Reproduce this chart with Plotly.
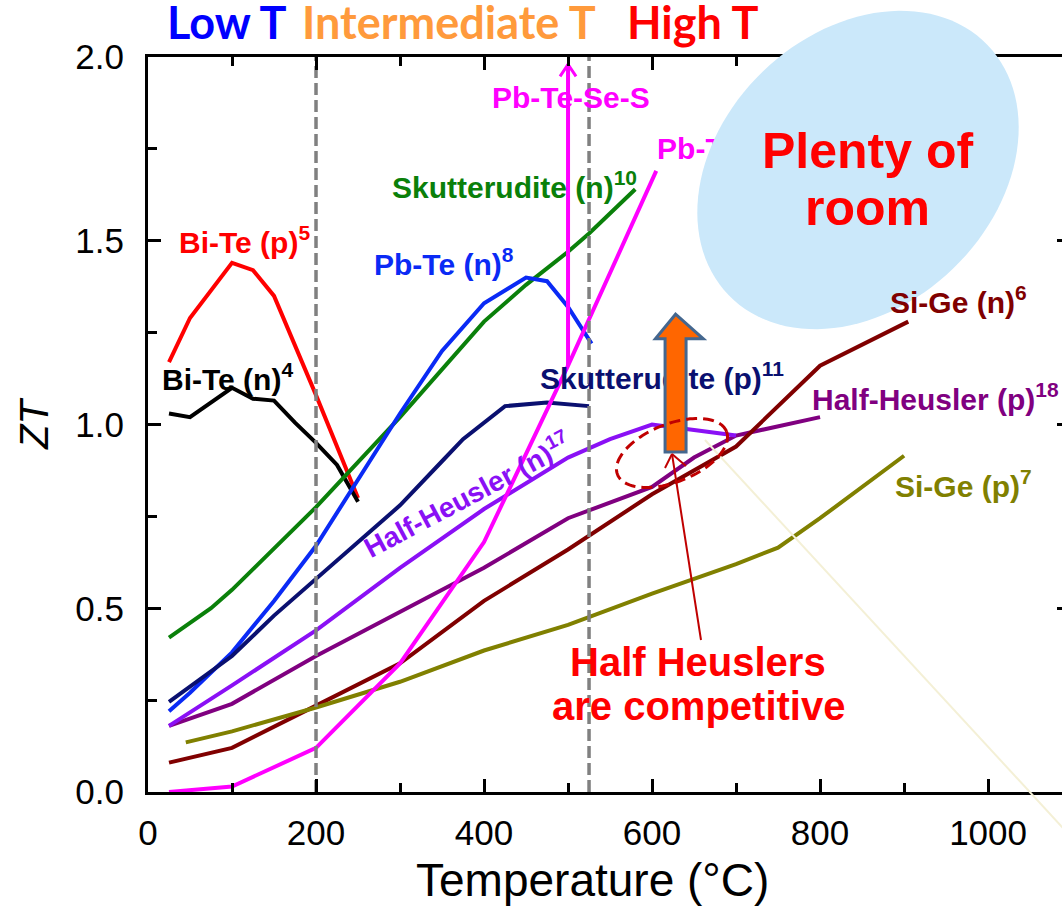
import math
import plotly.graph_objects as go

# ---- figure geometry (pixels) ----
W, H = 1062, 907
ML, MT, MB, MR = 148, 57, 115, 0
PLOT_W = W - ML - MR
PLOT_H = H - MT - MB
X_MAX, Y_MAX = 1088, 2.0

# ---- ZT vs temperature data ----
BITE_P_X = [25, 50, 100, 125, 150, 200, 250]
BITE_P_Y = [1.17, 1.29, 1.44, 1.42, 1.35, 1.08, 0.80]

BITE_N_X = [25, 50, 100, 125, 150, 175, 200, 225, 250]
BITE_N_Y = [1.03, 1.02, 1.10, 1.07, 1.065, 1.005, 0.95, 0.89, 0.79]

SKUT_N_X = [25, 75, 100, 200, 300, 400, 450, 500, 525, 580]
SKUT_N_Y = [0.42, 0.50, 0.55, 0.775, 1.02, 1.28, 1.38, 1.47, 1.52, 1.64]

PBTE_N_X = [25, 50, 100, 150, 200, 250, 300, 350, 400, 450, 475, 500, 528]
PBTE_N_Y = [0.22, 0.27, 0.38, 0.52, 0.67, 0.85, 1.03, 1.20, 1.33, 1.40, 1.39, 1.32, 1.22]

SKUT_P_X = [25, 75, 100, 150, 200, 250, 300, 350, 375, 425, 475, 525]
SKUT_P_Y = [0.245, 0.33, 0.37, 0.48, 0.58, 0.68, 0.78, 0.90, 0.96, 1.05, 1.06, 1.05]

HH_N_X = [25, 100, 200, 300, 400, 500, 550, 600, 650, 700]
HH_N_Y = [0.18, 0.29, 0.44, 0.61, 0.77, 0.91, 0.96, 1.00, 0.985, 0.97]

HH_P_X = [25, 100, 200, 300, 400, 500, 600, 650, 700, 800]
HH_P_Y = [0.18, 0.24, 0.37, 0.49, 0.61, 0.745, 0.83, 0.91, 0.97, 1.02]

SIGE_N_X = [25, 100, 200, 300, 400, 500, 600, 700, 800, 905]
SIGE_N_Y = [0.08, 0.12, 0.235, 0.35, 0.52, 0.66, 0.81, 0.94, 1.16, 1.28]

SIGE_P_X = [45, 100, 200, 300, 400, 500, 600, 700, 750, 800, 900]
SIGE_P_Y = [0.135, 0.165, 0.23, 0.30, 0.385, 0.455, 0.54, 0.62, 0.665, 0.745, 0.915]

PBTE_P_X = [25, 100, 200, 300, 400, 500, 605]
PBTE_P_Y = [0.0, 0.015, 0.12, 0.35, 0.68, 1.16, 1.69]

# Pb-Te-Se-S jump drawn as an upward arrow at 500 °C
PBTESES_X = [500, 500]
PBTESES_Y = [1.16, 1.98]

# temperature regime boundaries
DIVIDERS = [200, 525]

# HH improvement arrow (x: shaft/head edges, y: bottom, head base, tip)
HH_ARROW_X = [604, 615.5, 640.5, 661]
HH_ARROW_Y = [0.925, 1.233, 1.30]

SERIES = [
    ("Bi-Te (p)", BITE_P_X, BITE_P_Y, "#FF0000"),
    ("Bi-Te (n)", BITE_N_X, BITE_N_Y, "#000000"),
    ("Skutterudite (n)", SKUT_N_X, SKUT_N_Y, "#0A800A"),
    ("Pb-Te (n)", PBTE_N_X, PBTE_N_Y, "#0A2AF5"),
    ("Skutterudite (p)", SKUT_P_X, SKUT_P_Y, "#0A1070"),
    ("Half-Heusler (p)", HH_P_X, HH_P_Y, "#800080"),
    ("Half-Heusler (n)", HH_N_X, HH_N_Y, "#8A10F5"),
    ("Si-Ge (n)", SIGE_N_X, SIGE_N_Y, "#800000"),
    ("Si-Ge (p)", SIGE_P_X, SIGE_P_Y, "#808000"),
    ("Pb-Te (p)", PBTE_P_X, PBTE_P_Y, "#FF00FF"),
]

LABEL_FONT = "Liberation Sans"
TOP_FONT = "Lato"


def px_to_x(px):
    return (px - ML) * X_MAX / PLOT_W


def px_to_y(py):
    return (MT + PLOT_H - py) * Y_MAX / PLOT_H


def x_to_px(x):
    return ML + x * PLOT_W / X_MAX


def y_to_px(y):
    return MT + PLOT_H - y * PLOT_H / Y_MAX


def px_to_paper(px, py):
    return (px - ML) / PLOT_W, (MT + PLOT_H - py) / PLOT_H


def ellipse_path(cx, cy, a, b, deg, to_paper, n=120):
    th = math.radians(deg)
    pts = []
    for i in range(n):
        t = 2 * math.pi * i / n
        px = cx + a * math.cos(t) * math.cos(th) - b * math.sin(t) * math.sin(th)
        py = cy - (a * math.cos(t) * math.sin(th) + b * math.sin(t) * math.cos(th))
        if to_paper:
            pts.append(px_to_paper(px, py))
        else:
            pts.append((px_to_x(px), px_to_y(py)))
    return "M " + " L ".join(f"{p[0]:.5f},{p[1]:.5f}" for p in pts) + " Z"


fig = go.Figure()

for name, xs, ys, col in SERIES:
    fig.add_trace(go.Scatter(x=xs, y=ys, mode="lines", name=name,
                             line=dict(color=col, width=4)))

# Pb-Te-Se-S arrow shaft and open head
fig.add_trace(go.Scatter(x=PBTESES_X, y=PBTESES_Y, mode="lines",
                         line=dict(color="#FF00FF", width=4), name="Pb-Te-Se-S"))
tip_px, tip_py = x_to_px(PBTESES_X[-1]), y_to_px(PBTESES_Y[-1])
fig.add_trace(go.Scatter(
    x=[px_to_x(tip_px - 8), PBTESES_X[-1], px_to_x(tip_px + 8)],
    y=[px_to_y(tip_py + 12), PBTESES_Y[-1], px_to_y(tip_py + 12)],
    mode="lines", line=dict(color="#FF00FF", width=3), hoverinfo="skip"))

# regime dividers
for xd in DIVIDERS:
    fig.add_trace(go.Scatter(x=[xd, xd], y=[0, Y_MAX], mode="lines",
                             line=dict(color="#808080", width=3.5, dash="12px,5px"),
                             hoverinfo="skip"))

# labels that sit beneath the overlay shapes
fig.add_trace(go.Scatter(
    x=[606, 466.7], y=[1.744, 1.118], mode="text",
    text=["<b>Pb-Te (p)<sup>9</sup></b>", "<b>Skutterudite (p)<sup>11</sup></b>"],
    textposition="middle right", cliponaxis=False,
    textfont=dict(family=LABEL_FONT, size=30, color=["#FF00FF", "#0A1070"]),
    hoverinfo="skip"))

# right-hand mirrored ticks
fig.add_trace(go.Scatter(x=[None], y=[None], yaxis="y2", hoverinfo="skip"))

shapes = []
# "plenty of room" bubble
shapes.append(dict(type="path", xref="paper", yref="paper", layer="above",
                   path=ellipse_path(858, 170, 180, 137, 44, True),
                   fillcolor="#CBE8FA", line=dict(width=0)))
# faint guide line
g0 = px_to_paper(705, 440)
g1 = px_to_paper(1075, 841)
shapes.append(dict(type="line", xref="paper", yref="paper", layer="above",
                   x0=g0[0], y0=g0[1], x1=g1[0], y1=g1[1],
                   line=dict(color="#F4F0D6", width=2)))
# HH improvement block arrow
ax0, ax1, ax2, ax3 = HH_ARROW_X
ay0, ay1, ay2 = HH_ARROW_Y
xm = (ax1 + ax2) / 2
shapes.append(dict(type="path", xref="x", yref="y", layer="above",
                   path=(f"M {ax1},{ay0} L {ax2},{ay0} L {ax2},{ay1} L {ax3},{ay1} "
                         f"L {xm},{ay2} L {ax0},{ay1} L {ax1},{ay1} Z"),
                   fillcolor="#FF6600", line=dict(color="#44678F", width=3)))
# dashed highlight ring
shapes.append(dict(type="path", xref="x", yref="y", layer="above",
                   path=ellipse_path(672, 453, 58.6, 29, 21.6, False),
                   fillcolor="rgba(0,0,0,0)",
                   line=dict(color="#C00000", width=3, dash="11px,6px")))
# thin pointer arrow
tipx, tipy = 672, 454
tailx, taily = 701, 640
shapes.append(dict(type="line", xref="x", yref="y", layer="above",
                   x0=px_to_x(tailx), y0=px_to_y(taily), x1=px_to_x(tipx), y1=px_to_y(tipy),
                   line=dict(color="#C00000", width=2)))
for hx, hy in [(665, 468), (686, 466)]:
    shapes.append(dict(type="line", xref="x", yref="y", layer="above",
                       x0=px_to_x(hx), y0=px_to_y(hy), x1=px_to_x(tipx), y1=px_to_y(tipy),
                       line=dict(color="#C00000", width=2)))

annotations = []


def label(text, x, y, color, size=30, xanchor="left", angle=0, yref="y", xref="x",
          family=LABEL_FONT):
    annotations.append(dict(text=text, x=x, y=y, xref=xref, yref=yref, showarrow=False,
                            xanchor=xanchor, yanchor="middle", textangle=angle,
                            font=dict(family=family, size=size, color=color)))


label("<b>Bi-Te (p)<sup>5</sup></b>", 34.5, 1.502, "#FF0000")
label("<b>Bi-Te (n)<sup>4</sup></b>", 14.3, 1.129, "#000000")
label("<b>Skutterudite (n)<sup>10</sup></b>", 288, 1.652, "#0A800A")
label("<b>Pb-Te (n)<sup>8</sup></b>", 266.7, 1.442, "#0A2AF5")
label("<b>Pb-Te-Se-S</b>", 407, 1.891, "#FF00FF")
label("<b>Half-Heusler (p)<sup>18</sup></b>", 788, 1.075, "#800080")
label("<b>Si-Ge (n)<sup>6</sup></b>", 881, 1.339, "#800000")
label("<b>Si-Ge (p)<sup>7</sup></b>", 887, 0.838, "#808000")
label("<b>Half-Heusler (n)<sup>17</sup></b>", 380, 0.81, "#8A10F5", size=28,
      xanchor="center", angle=-28)

# regime headings
label("<b>Low T</b>", 92.9, 1.0476, "#0000FF", size=45, xanchor="center", yref="paper",
      family=TOP_FONT)
label("<b>Intermediate T</b>", 358, 1.0476, "#FF9A3C", size=45, xanchor="center",
      yref="paper", family=TOP_FONT)
label("<b>High T</b>", 649, 1.0476, "#FF0000", size=45, xanchor="center", yref="paper",
      family=TOP_FONT)

# callouts
label("<b>Plenty of</b>", 857, 1.744, "#FF0000", size=50, xanchor="center")
label("<b>room</b>", 857, 1.589, "#FF0000", size=50, xanchor="center")
label("<b>Half Heuslers</b>", 654.8, 0.354, "#FF0000", size=40, xanchor="center")
label("<b>are competitive</b>", 654.8, 0.234, "#FF0000", size=40, xanchor="center")

# axis titles
label("Temperature (°C)", 528.6, -0.1197, "#000000", size=46, xanchor="center",
      yref="paper")
annotations.append(dict(text="<i>ZT</i>", x=-0.1247, y=0.5007, xref="paper", yref="paper",
                        showarrow=False, textangle=-90, xanchor="center", yanchor="middle",
                        font=dict(family=LABEL_FONT, size=40, color="#000000")))

axis_common = dict(showgrid=False, zeroline=False, ticks="inside", tickcolor="#000000",
                   tickwidth=3, ticklen=13,
                   tickfont=dict(family=LABEL_FONT, size=35, color="#000000"))

fig.update_layout(
    width=W, height=H,
    margin=dict(l=ML, r=MR, t=MT, b=MB, pad=0),
    plot_bgcolor="white", paper_bgcolor="white",
    showlegend=False,
    shapes=shapes, annotations=annotations,
    xaxis=dict(range=[0, X_MAX], tick0=0, dtick=200, showline=True, linecolor="#000000",
               linewidth=3, mirror="ticks", ticklabelstandoff=8,
               minor=dict(dtick=100, ticks="inside", ticklen=9, tickwidth=3,
                          tickcolor="#000000"),
               **axis_common),
    yaxis=dict(range=[0, Y_MAX], tick0=0, dtick=0.5, tickformat=".1f", showline=True,
               linecolor="#000000", linewidth=3, mirror=False, ticklabelstandoff=14,
               minor=dict(dtick=0.25, ticks="inside", ticklen=9, tickwidth=3,
                          tickcolor="#000000"),
               **axis_common),
    yaxis2=dict(range=[0, Y_MAX], overlaying="y", side="right", anchor="x", dtick=0.5,
                tick0=0, ticks="inside", ticklen=5, tickwidth=3, tickcolor="#000000",
                showline=False, showticklabels=False, showgrid=False, zeroline=False),
)

fig.write_html("out.html")
